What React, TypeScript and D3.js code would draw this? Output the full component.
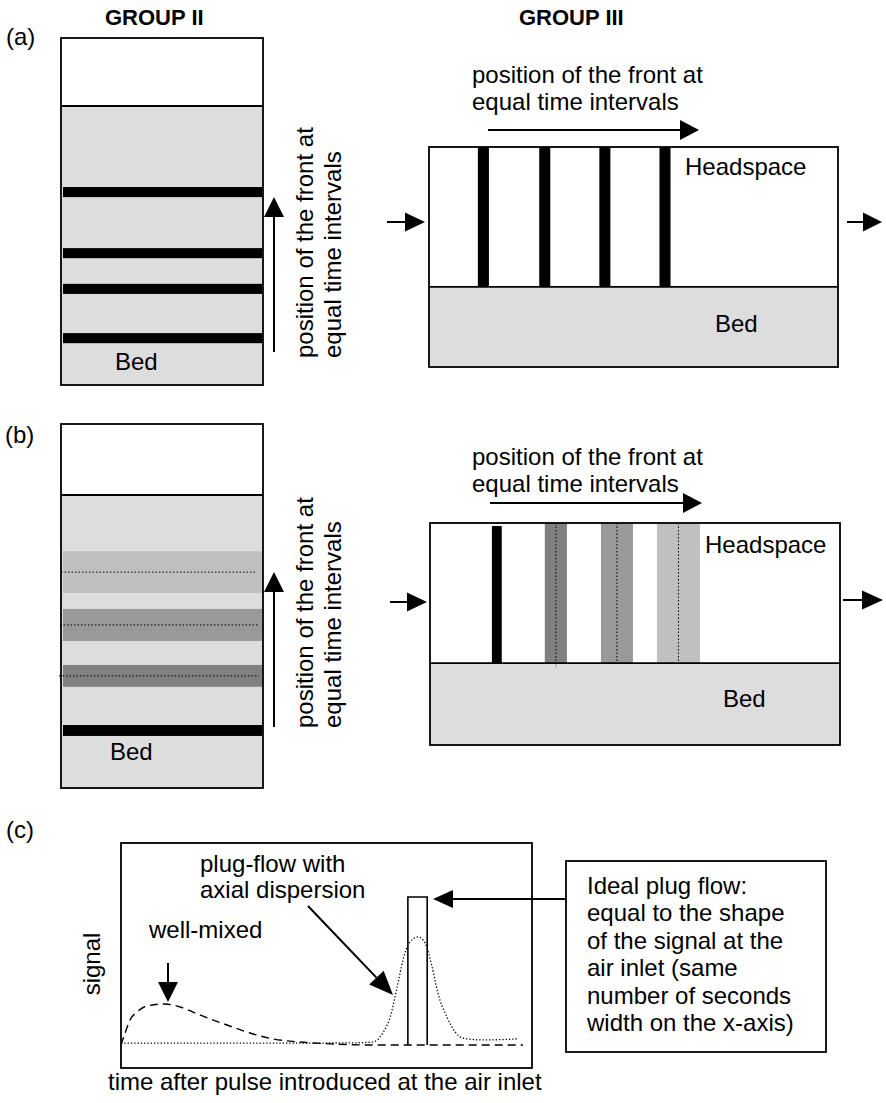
import React from "react";
import * as d3 from "d3";

// front positions in % of column height (group II) or column length (group III)
const frontsIIa = [13.5, 27.7, 38.0, 55.6];
const frontsIIIa = [13.3, 28.3, 43.0, 57.7];
// (b) fronts spread out with time: centre and width, % of column
const frontsIIb = [15.8, 30.8, 44.8, 59.3];
const spreadIIb = [3.0, 6.0, 8.8, 11.5];
const frontsIIIb = [16.3, 30.7, 45.6, 60.6];
const spreadIIIb = [2.4, 5.4, 7.8, 10.5];
// bed level, % of column height
const bedII = [80.4, 80.5];
const bedIII = [36.4, 36.9];

// (c) signal vs time (time in % of plot width, signal relative to plug height)
const wellMixedT = [0, 1, 2.2, 3.9, 6.3, 10.7, 14.4, 19.2, 25.8, 31.4, 37, 43.6, 51.6, 60, 97.8];
const wellMixedS = [0, 0.081, 0.169, 0.223, 0.264, 0.277, 0.257, 0.203, 0.135, 0.081, 0.041, 0.02, 0.007, 0, 0];
const dispersionT = [0, 30, 55, 61.3, 63.7, 65.5, 67.2, 68.6, 70.3, 72.3, 74.0, 75.7, 77.1, 79.3, 81.3, 83.2, 88.1, 96.4];
const dispersionS = [0.012, 0.012, 0.014, 0.02, 0.081, 0.189, 0.392, 0.574, 0.696, 0.73, 0.689, 0.527, 0.351, 0.189, 0.088, 0.047, 0.034, 0.041];
const plugT = [69.8, 74.5];
const plugS = 1;

const ideaLines = [
  "Ideal plug flow:",
  "equal to the shape",
  "of the signal at the",
  "air inlet (same",
  "number of seconds",
  "width on the x-axis)",
];

const frontShades = ["#000000", "#808080", "#999999", "#c0c0c0"];
const bedFill = "#dddddd";
const font = "Liberation Sans, Arial, sans-serif";

function Arrow({ x1, y1, x2, y2, len = 20, half = 10, w = 2 }: any) {
  const a = Math.atan2(y2 - y1, x2 - x1);
  const bx = x2 - len * Math.cos(a);
  const by = y2 - len * Math.sin(a);
  const px = -Math.sin(a) * half;
  const py = Math.cos(a) * half;
  return (
    <g>
      <line x1={x1} y1={y1} x2={bx} y2={by} stroke="#000" strokeWidth={w} />
      <path d={`M${x2},${y2}L${bx + px},${by + py}L${bx - px},${by - py}Z`} fill="#000" />
    </g>
  );
}

function Txt({ x, y, children, size = 24, bold = false, anchor = "start", rotate = 0 }: any) {
  return (
    <text
      transform={`translate(${x},${y})${rotate ? ` rotate(${rotate})` : ""}`}
      fontFamily={font}
      fontSize={size}
      fontWeight={bold ? "bold" : "normal"}
      textAnchor={anchor}
      fill="#000"
    >
      {children}
    </text>
  );
}

function GroupII({ x0, x1, y0, y1, bed, fronts, spread, dotted }: any) {
  const h = d3.scaleLinear().domain([0, 100]).range([y1, y0]);
  return (
    <g>
      <rect x={x0} y={y0} width={x1 - x0} height={h(bed) - y0} fill="#fff" />
      <rect x={x0} y={h(bed)} width={x1 - x0} height={y1 - h(bed)} fill={bedFill} />
      {fronts.map((f: number, i: number) => {
        const s = spread ? spread[i] : 2.9;
        const fill = spread ? frontShades[i] : "#000";
        return (
          <g key={i}>
            <rect x={x0 + 2} y={h(f + s / 2)} width={x1 - x0 - 3} height={h(f - s / 2) - h(f + s / 2)} fill={fill} />
            {dotted && i > 0 && (
              <line x1={x0 - 3 + i} y1={h(f)} x2={x1 - 3 - i} y2={h(f)} stroke="#000" strokeWidth={1} strokeDasharray="1.5 2" />
            )}
          </g>
        );
      })}
      <line x1={x0} y1={h(bed)} x2={x1} y2={h(bed)} stroke="#000" strokeWidth={1.8} />
      <rect x={x0} y={y0} width={x1 - x0} height={y1 - y0} fill="none" stroke="#000" strokeWidth={1.8} />
    </g>
  );
}

function GroupIII({ x0, x1, y0, y1, bed, fronts, spread, dotted }: any) {
  const l = d3.scaleLinear().domain([0, 100]).range([x0, x1]);
  const v = d3.scaleLinear().domain([0, 100]).range([y1, y0]);
  return (
    <g>
      <rect x={x0} y={y0} width={x1 - x0} height={v(bed) - y0} fill="#fff" />
      <rect x={x0} y={v(bed)} width={x1 - x0} height={y1 - v(bed)} fill={bedFill} />
      {fronts.map((f: number, i: number) => {
        const s = spread ? spread[i] : 2.7;
        const fill = spread ? frontShades[i] : "#000";
        return (
          <g key={i}>
            <rect x={l(f - s / 2)} y={y0 + (spread && i === 0 ? 3 : 0)} width={l(f + s / 2) - l(f - s / 2)} height={v(bed) - y0 - (spread && i === 0 ? 3 : 0)} fill={fill} />
            {dotted && i > 0 && (
              <line x1={l(f)} y1={y0} x2={l(f)} y2={v(bed) + (i === 1 ? 4 : 0)} stroke="#000" strokeWidth={1} strokeDasharray="1.5 2" />
            )}
          </g>
        );
      })}
      <line x1={x0} y1={v(bed)} x2={x1} y2={v(bed)} stroke="#000" strokeWidth={1.8} />
      <rect x={x0} y={y0} width={x1 - x0} height={y1 - y0} fill="none" stroke="#000" strokeWidth={1.8} />
    </g>
  );
}

export default function App() {
  const t = d3.scaleLinear().domain([0, 100]).range([121, 532]);
  const s = d3.scaleLinear().domain([0, 1]).range([1045, 897]);
  const line = d3
    .line<[number, number]>()
    .x((d) => t(d[0]))
    .y((d) => s(d[1]))
    .curve(d3.curveMonotoneX);
  const wellMixed = wellMixedT.map((v, i) => [v, wellMixedS[i]] as [number, number]);
  const dispersion = dispersionT.map((v, i) => [v, dispersionS[i]] as [number, number]);

  return (
    <svg width={886} height={1103} style={{ position: "absolute", left: 0, top: 0, background: "#fff" }}>
      <rect width={886} height={1103} fill="#fff" />

      <Txt x={105} y={25} size={22} bold>GROUP II</Txt>
      <Txt x={519} y={25} size={22} bold>GROUP III</Txt>

      {/* (a) */}
      <Txt x={6} y={45}>(a)</Txt>
      <GroupII x0={61} x1={263} y0={38} y1={385} bed={bedII[0]} fronts={frontsIIa} />
      <Txt x={115} y={370}>Bed</Txt>
      <Arrow x1={274} y1={352} x2={274} y2={197} />
      <Txt x={313} y={358} rotate={-90}>position of the front at</Txt>
      <Txt x={341} y={358} rotate={-90}>equal time intervals</Txt>

      <GroupIII x0={429} x1={838} y0={147} y1={367} bed={bedIII[0]} fronts={frontsIIIa} />
      <Txt x={472} y={83}>position of the front at</Txt>
      <Txt x={472} y={110}>equal time intervals</Txt>
      <Arrow x1={488} y1={130} x2={699} y2={130} len={19} />
      <Txt x={685} y={175}>Headspace</Txt>
      <Txt x={715} y={332}>Bed</Txt>
      <Arrow x1={387} y1={222} x2={425} y2={222} len={20} half={9.5} />
      <Arrow x1={847} y1={222} x2={882} y2={222} len={19} half={9.5} />

      {/* (b) */}
      <Txt x={5} y={443}>(b)</Txt>
      <GroupII x0={61} x1={263} y0={424} y1={788} bed={bedII[1]} fronts={frontsIIb} spread={spreadIIb} dotted />
      <Txt x={110} y={760}>Bed</Txt>
      <Arrow x1={274} y1={727} x2={274} y2={572} />
      <Txt x={313} y={728} rotate={-90}>position of the front at</Txt>
      <Txt x={341} y={728} rotate={-90}>equal time intervals</Txt>

      <GroupIII x0={430} x1={840} y0={523} y1={745} bed={bedIII[1]} fronts={frontsIIIb} spread={spreadIIIb} dotted />
      <Txt x={472} y={465}>position of the front at</Txt>
      <Txt x={472} y={492}>equal time intervals</Txt>
      <Arrow x1={490} y1={503} x2={702} y2={503} len={19} />
      <Txt x={705} y={553}>Headspace</Txt>
      <Txt x={723} y={707}>Bed</Txt>
      <Arrow x1={390} y1={602} x2={427} y2={602} len={20} half={9.5} />
      <Arrow x1={843} y1={600} x2={883} y2={600} len={21} half={9.5} />

      {/* (c) */}
      <Txt x={6} y={838}>(c)</Txt>
      <rect x={121} y={843} width={411} height={225} fill="none" stroke="#000" strokeWidth={1.8} />
      <path d={line(dispersion) || ""} fill="none" stroke="#000" strokeWidth={1.3} strokeDasharray="1.3 2" />
      <path d={line(wellMixed) || ""} fill="none" stroke="#000" strokeWidth={1.4} strokeDasharray="8 5" />
      <path
        d={`M${t(plugT[0])},${s(0)}V${s(plugS)}H${t(plugT[1])}V${s(0)}`}
        fill="none"
        stroke="#000"
        strokeWidth={1.6}
      />
      <Txt x={200} y={872}>plug-flow with</Txt>
      <Txt x={200} y={898}>axial dispersion</Txt>
      <Txt x={149} y={938}>well-mixed</Txt>
      <Arrow x1={168} y1={963} x2={168} y2={1002} />
      <Arrow x1={308} y1={906} x2={393} y2={995} len={24} />
      <Arrow x1={566} y1={899} x2={433} y2={899} len={20} half={9} />
      <Txt x={100} y={964} rotate={-90} anchor="middle">signal</Txt>
      <Txt x={108} y={1090}>time after pulse introduced at the air inlet</Txt>

      <rect x={566} y={861} width={260} height={191} fill="none" stroke="#000" strokeWidth={1.8} />
      {ideaLines.map((d, i) => (
        <Txt key={i} x={587} y={894 + i * 27.4}>{d}</Txt>
      ))}
    </svg>
  );
}
